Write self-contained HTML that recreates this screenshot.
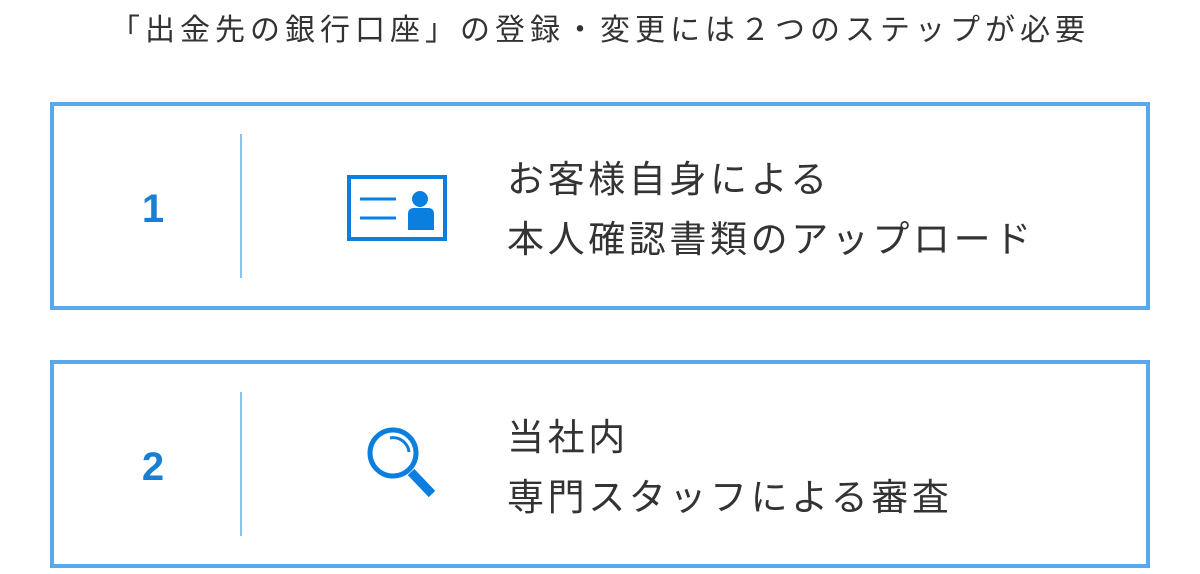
<!DOCTYPE html>
<html><head><meta charset="utf-8"><style>
body{margin:0;width:1200px;height:574px;background:#fff;font-family:"Liberation Sans","Noto Sans CJK JP",sans-serif;position:relative;overflow:hidden}
.title{position:absolute;top:5px;left:0;width:1200px;text-align:center;font-size:30px;color:#333;letter-spacing:5px;white-space:nowrap}
.box{position:absolute;left:50px;width:1092px;height:200px;border:4px solid #59a8ec}
.num{position:absolute;left:77px;width:44px;text-align:center;top:81px;font-size:40px;font-weight:bold;color:#1a7fd4;font-family:"Liberation Sans",sans-serif}
.div{position:absolute;left:186px;top:28px;width:2px;height:144px;background:#8cc2ef}
.txt{position:absolute;left:453px;top:44px;font-size:37px;line-height:60px;color:#333;letter-spacing:3.6px;white-space:nowrap}
svg{position:absolute}
</style></head><body>
<div class="title">「出金先の銀行口座」の登録・変更には２つのステップが必要</div>
<div class="box" style="top:102px">
 <div class="num">1</div><div class="div"></div>
 <svg style="left:-54px;top:-106px" width="1200" height="574"><rect x="349" y="177" width="96" height="62" fill="none" stroke="#0a7fe0" stroke-width="4"/><line x1="360" y1="199" x2="396" y2="199" stroke="#0a7fe0" stroke-width="3"/><line x1="360" y1="218" x2="396" y2="218" stroke="#0a7fe0" stroke-width="3"/><circle cx="420" cy="199" r="8" fill="#0a7fe0"/><path d="M408 230 L408 214 Q408 208 414 208 L428 208 Q434 208 434 214 L434 230 Z" fill="#0a7fe0"/></svg>
 <div class="txt">お客様自身による<br>本人確認書類のアップロード</div>
</div>
<div class="box" style="top:360px">
 <div class="num">2</div><div class="div"></div>
 <svg style="left:-54px;top:-364px" width="1200" height="574"><circle cx="393" cy="453" r="23" fill="none" stroke="#0a7fe0" stroke-width="5"/><path d="M390 438 A16 16 0 0 1 409 452" fill="none" stroke="#0a7fe0" stroke-width="3"/><line x1="411" y1="472" x2="432" y2="494" stroke="#0a7fe0" stroke-width="9"/></svg>
 <div class="txt">当社内<br>専門スタッフによる審査</div>
</div>
</body></html>
